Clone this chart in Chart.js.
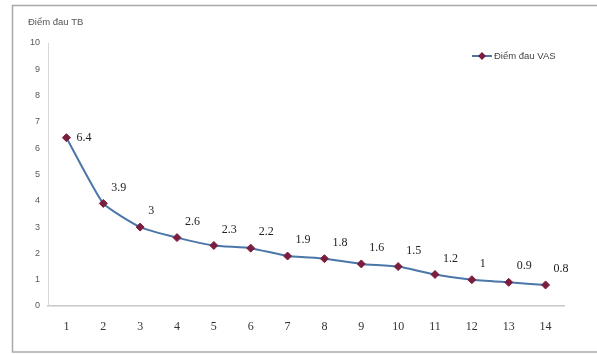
<!DOCTYPE html>
<html>
<head>
<meta charset="utf-8">
<script src="https://cdn.jsdelivr.net/npm/chart.js@4/dist/chart.umd.min.js"></script>
<style>
  html, body { margin: 0; padding: 0; background: #fff; }
  #wrap { width: 597px; height: 354px; position: relative; }
</style>
</head>
<body>
<div id="wrap"><canvas id="c" width="597" height="354"></canvas></div>
<script>
// Session numbers on the x axis
const sessions = ['1','2','3','4','5','6','7','8','9','10','11','12','13','14'];
// Mean VAS pain score per session
const vasScores = [6.4, 3.9, 3, 2.6, 2.3, 2.2, 1.9, 1.8, 1.6, 1.5, 1.2, 1, 0.9, 0.8];
// Text
const seriesName = 'Điểm đau VAS';
const yAxisTitle = 'Điểm đau TB';

const lineColor = '#4a76a8';
const markerColor = '#7b1e3e';

// Outer frame, y-axis title and legend
const decorations = {
  id: 'decorations',
  afterDraw(chart) {
    const ctx = chart.ctx;
    ctx.save();
    ctx.strokeStyle = '#a9a9a9';
    ctx.lineWidth = 1.5;
    ctx.beginPath();
    ctx.moveTo(597, 5.5); ctx.lineTo(12.5, 5.5); ctx.lineTo(12.5, 352); ctx.lineTo(597, 352);
    ctx.stroke();

    ctx.fillStyle = '#555';
    ctx.font = '9.5px "Liberation Sans", Arial, sans-serif';
    ctx.textBaseline = 'middle';
    ctx.textAlign = 'left';
    ctx.fillText(yAxisTitle, 28, 22);

    // legend entry
    const ly = 56;
    ctx.strokeStyle = lineColor;
    ctx.lineWidth = 2;
    ctx.beginPath(); ctx.moveTo(472, ly); ctx.lineTo(492, ly); ctx.stroke();
    ctx.fillStyle = markerColor;
    ctx.beginPath();
    ctx.moveTo(482, ly - 4); ctx.lineTo(486, ly); ctx.lineTo(482, ly + 4); ctx.lineTo(478, ly);
    ctx.closePath(); ctx.fill();
    ctx.fillStyle = '#444';
    ctx.font = '9.5px "Liberation Sans", Arial, sans-serif';
    ctx.fillText(seriesName, 494, ly);
    ctx.restore();
  }
};

// Value labels next to each point
const valueLabels = {
  id: 'valueLabels',
  afterDatasetsDraw(chart) {
    const ctx = chart.ctx;
    const meta = chart.getDatasetMeta(0);
    ctx.save();
    ctx.fillStyle = '#222';
    ctx.font = '12px "Liberation Serif", "Times New Roman", serif';
    ctx.textBaseline = 'middle';
    ctx.textAlign = 'left';
    meta.data.forEach((pt, i) => {
      const v = chart.data.datasets[0].data[i];
      if (i === 0) ctx.fillText(String(v), pt.x + 10, pt.y);
      else ctx.fillText(String(v), pt.x + 8, pt.y - 16);
    });
    ctx.restore();
  }
};

new Chart(document.getElementById('c'), {
  type: 'line',
  data: {
    labels: sessions,
    datasets: [{
      label: seriesName,
      data: vasScores,
      borderColor: lineColor,
      borderWidth: 2,
      tension: 0.15,
      pointStyle: 'rectRot',
      pointRadius: 4,
      pointBackgroundColor: markerColor,
      pointBorderColor: markerColor,
      pointBorderWidth: 1
    }]
  },
  options: {
    responsive: false,
    animation: false,
    events: [],
    layout: { padding: { left: 12, top: 43, right: 33, bottom: 8 } },
    plugins: { legend: { display: false }, tooltip: { enabled: false }, title: { display: false } },
    scales: {
      x: {
        offset: true,
        grid: { display: false, drawTicks: false },
        border: { color: '#c8c8c8', width: 1.5 },
        ticks: {
          color: '#333',
          padding: 14,
          font: { family: '"Liberation Serif", "Times New Roman", serif', size: 12 }
        },
        afterFit(s) { s.height = 40; }
      },
      y: {
        min: 0, max: 10,
        grid: { display: false, drawTicks: false },
        border: { color: '#d8d8d8', width: 1 },
        ticks: {
          stepSize: 1,
          color: '#595959',
          padding: 8,
          font: { family: '"Liberation Sans", Arial, sans-serif', size: 9 }
        },
        afterFit(s) { s.width = 36; }
      }
    }
  },
  plugins: [decorations, valueLabels]
});
</script>
</body>
</html>
